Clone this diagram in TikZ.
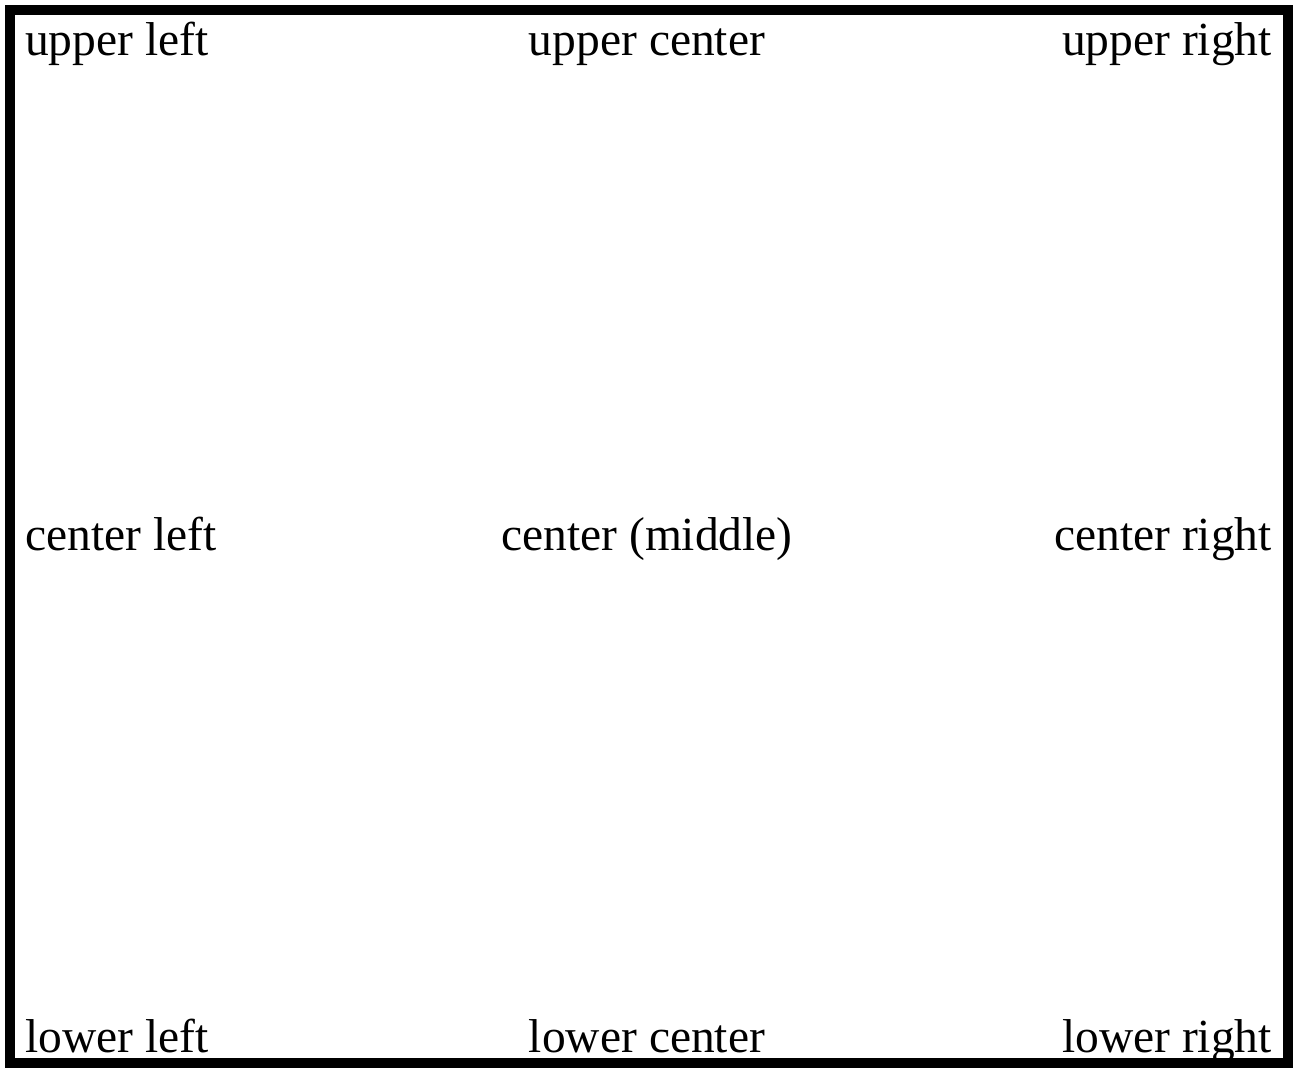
\documentclass[tikz,border=0pt]{standalone}
\usepackage{fontspec}
\setmainfont{Liberation Serif}

\begin{document}
\begin{tikzpicture}[x=1pt, y=-1pt,
    spot/.style={inner sep=0pt, font=\fontsize{47.5}{52}\selectfont}]
    \useasboundingbox (0,0) rectangle (1294,1069);
    \draw [line width=10pt] (10,10) rectangle (1288,1063);
    % top row
    \node [spot, anchor=base west] (ul) at (25,55) {upper left};
    \node [spot, anchor=base] (uc) at (647,55) {upper center};
    \node [spot, anchor=base east] (ur) at (1272,55) {upper right};
    % middle row
    \node [spot, anchor=base west] (cl) at (25,550) {center left};
    \node [spot, anchor=base] (cc) at (647,550) {center (middle)};
    \node [spot, anchor=base east] (cr) at (1272,550) {center right};
    % bottom row
    \node [spot, anchor=base west] (ll) at (25,1052) {lower left};
    \node [spot, anchor=base] (lc) at (647,1052) {lower center};
    \node [spot, anchor=base east] (lr) at (1272,1052) {lower right};
\end{tikzpicture}
\end{document}
